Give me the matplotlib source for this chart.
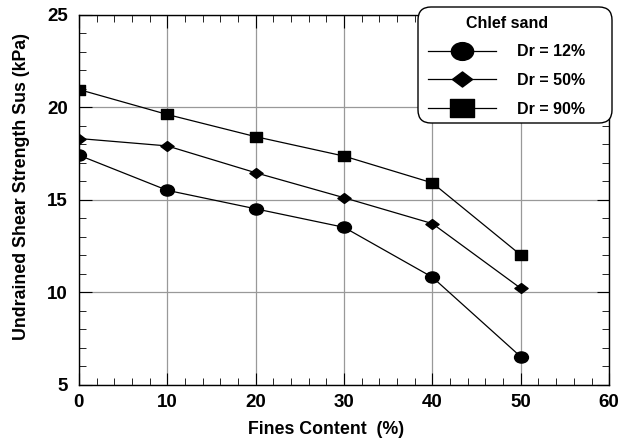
import numpy as np
import matplotlib
matplotlib.use("Agg")
import matplotlib.pyplot as plt
from matplotlib.ticker import MultipleLocator
from matplotlib.path import Path
from matplotlib.patches import FancyBboxPatch
from matplotlib.lines import Line2D
from matplotlib.transforms import IdentityTransform

plt.rcParams['font.family'] = ['Liberation Sans', 'DejaVu Sans']
plt.rcParams['font.weight'] = 'bold'

# Datos
fines = [0, 10, 20, 30, 40, 50]
su_dr12 = [17.4, 15.5, 14.5, 13.5, 10.8, 6.5]
su_dr50 = [18.3, 17.9, 16.45, 15.1, 13.7, 10.2]
su_dr90 = [20.95, 19.6, 18.4, 17.35, 15.9, 12.0]
labels = ['Dr = 12%', 'Dr = 50%', 'Dr = 90%']

# Marcadores algo achatados (elipse, rombo, rectangulo)
circ = Path.unit_circle()
ellipse = Path(circ.vertices * [1.0, 0.8], circ.codes)
diamond = Path([(-1, 0), (0, 0.75), (1, 0), (0, -0.75), (-1, 0)],
               [Path.MOVETO, Path.LINETO, Path.LINETO, Path.LINETO, Path.CLOSEPOLY])
rect = Path([(-1, -0.8), (1, -0.8), (1, 0.8), (-1, 0.8), (-1, -0.8)],
            [Path.MOVETO, Path.LINETO, Path.LINETO, Path.LINETO, Path.CLOSEPOLY])
markers = [ellipse, diamond, rect]
sizes = [10, 9.5, 8.5]

fig = plt.figure(figsize=(6.21, 4.42), dpi=100)
ax = fig.add_axes([0.127, 0.130, 0.854, 0.837])

for ys, m, s, lab in zip([su_dr12, su_dr50, su_dr90], markers, sizes, labels):
    ax.plot(fines, ys, '-', marker=m, color='black', lw=0.9, ms=s, label=lab, zorder=3)

ax.set_xlim(0, 60)
ax.set_ylim(5, 25)
ax.xaxis.set_major_locator(MultipleLocator(10))
ax.xaxis.set_minor_locator(MultipleLocator(2))
ax.yaxis.set_major_locator(MultipleLocator(5))
ax.yaxis.set_minor_locator(MultipleLocator(1))
ax.tick_params(which='both', direction='in', top=True, right=True, labelsize=13.5)
ax.tick_params(which='major', length=9)
ax.tick_params(which='minor', length=5)
ax.tick_params(axis='y', pad=8)
ax.tick_params(axis='x', pad=7)
ax.grid(True, which='major', color='#999999', lw=0.9)
for sp in ax.spines.values():
    sp.set_linewidth(1.0)

ax.set_xlabel('Fines Content  (%)', fontsize=12.8, fontweight='bold')
ax.set_ylabel('Undrained Shear Strength Sus (kPa)', fontsize=12.8, fontweight='bold')
ax.xaxis.set_label_coords(0.466, -0.099)
ax.yaxis.set_label_coords(-0.0925, 0.534)

# Caja redondeada de la leyenda (en pixeles)
box = FancyBboxPatch((418, 442 - 123), 194, 116, boxstyle='round,pad=0,rounding_size=13',
                     transform=IdentityTransform(), facecolor='white', edgecolor='black',
                     lw=1.0, zorder=5)
fig.add_artist(box)

handles = [Line2D([], [], color='black', lw=0.9, marker=m, ms=s)
           for m, s in zip(markers, [16, 14.5, 17])]
leg = fig.legend(handles, labels, loc='upper left', bbox_to_anchor=(420.6 / 621, 1 - 8.6 / 442),
                 title='Chlef sand', title_fontproperties={'weight': 'bold', 'size': 11.5},
                 prop={'weight': 'bold', 'size': 11.5}, handlelength=4.3,
                 frameon=False, borderpad=0.45, borderaxespad=0, labelspacing=0.85,
                 handletextpad=1.3)
leg.set_zorder(10)

plt.savefig('out.png', dpi=100)
plt.close()
